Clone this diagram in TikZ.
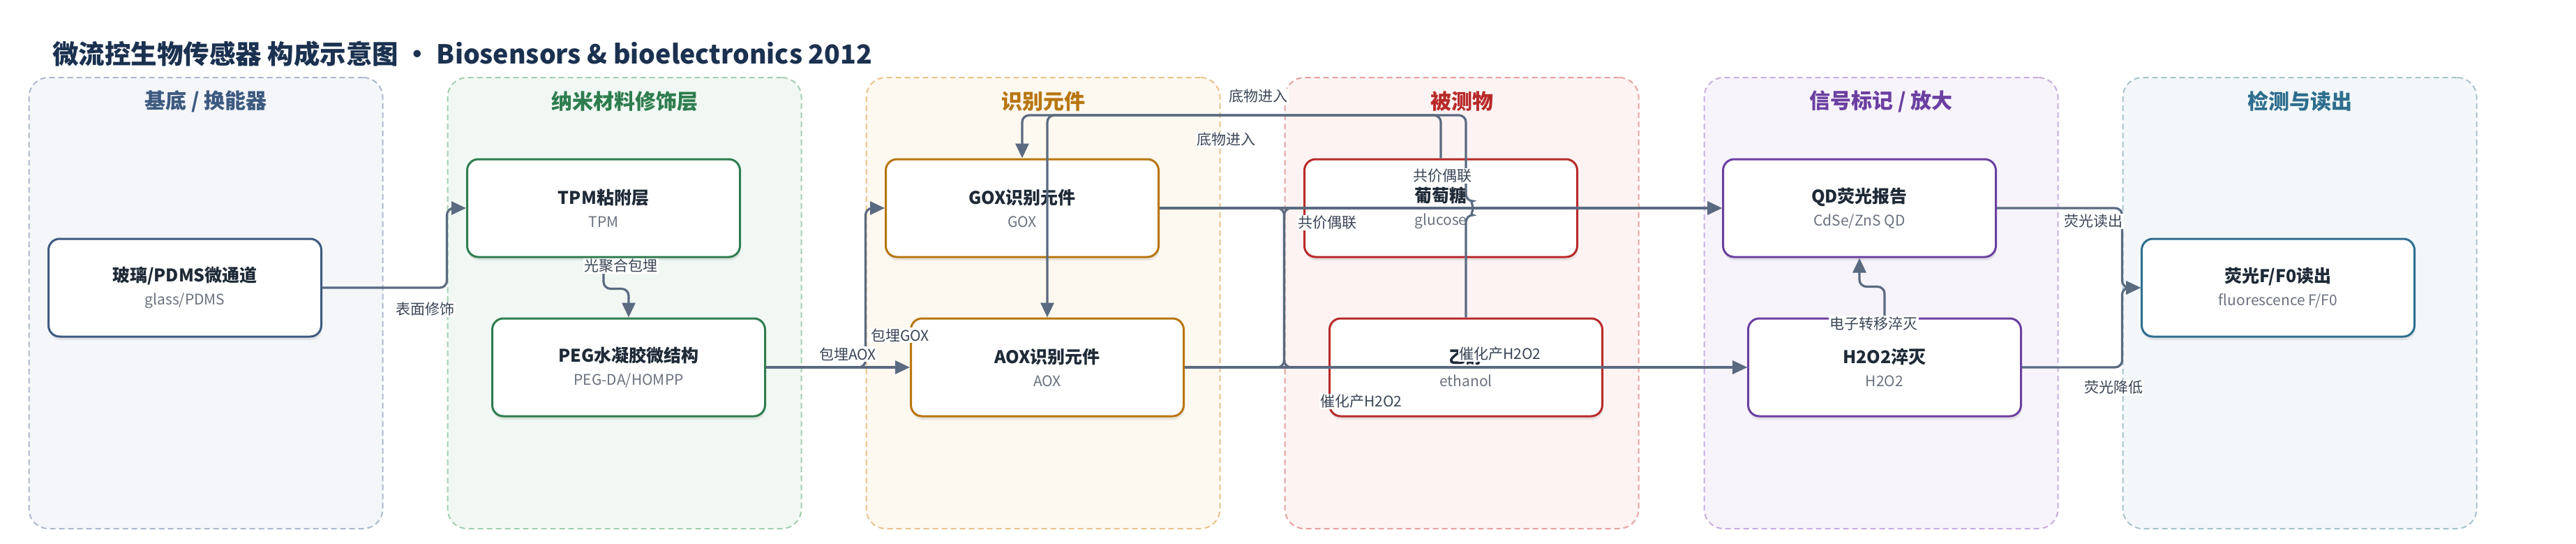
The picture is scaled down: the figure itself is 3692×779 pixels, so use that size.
\documentclass[tikz,border=0pt]{standalone}
\usepackage{fontspec}
\setmainfont{Noto Sans CJK SC}
\usetikzlibrary{arrows.meta,shadows,calc}
\definecolor{edgec}{HTML}{5A6A80}
\definecolor{labelc}{HTML}{3A4556}
\definecolor{ntitle}{HTML}{1F2A37}
\definecolor{nsub}{HTML}{6B7280}
\definecolor{maint}{HTML}{1B3150}
\definecolor{aB}{HTML}{3D5A80}\definecolor{aF}{HTML}{F4F6FA}\definecolor{aD}{HTML}{AEB9CE}
\definecolor{bB}{HTML}{2E7D4F}\definecolor{bF}{HTML}{F1F8F3}\definecolor{bD}{HTML}{A3CFB1}
\definecolor{cB}{HTML}{B8760E}\definecolor{cF}{HTML}{FDF8F0}\definecolor{cD}{HTML}{E8C38C}
\definecolor{dB}{HTML}{B82A2A}\definecolor{dF}{HTML}{FDF3F3}\definecolor{dD}{HTML}{E8A2A2}
\definecolor{eB}{HTML}{6B3FA0}\definecolor{eF}{HTML}{F7F3FB}\definecolor{eD}{HTML}{C8AEE0}
\definecolor{fB}{HTML}{2E6E8E}\definecolor{fF}{HTML}{F3F7F9}\definecolor{fD}{HTML}{A8C3CD}
\newcommand{\nsubt}[1]{{\mdseries\fontsize{21}{26}\selectfont\color{nsub}#1}}
\begin{document}
\begin{tikzpicture}[x=1pt,y=-1pt,
  lane/.style={draw=#1D, fill=#1F, dash pattern=on 8pt off 5pt, line width=2pt,
    rounded corners=28pt, minimum width=507pt, minimum height=646pt, inner sep=0pt},
  lanetitle/.style={text=#1B, font=\fontsize{30}{32}\selectfont\bfseries, inner sep=0pt},
  nbox/.style={draw=#1B, fill=white, line width=3pt, rounded corners=16pt,
    minimum width=391pt, minimum height=140pt, align=center, text=ntitle,
    drop shadow={shadow xshift=1pt, shadow yshift=-5pt, opacity=0.16},
    font=\fontsize{25}{30}\selectfont\bfseries},
  edge/.style={draw=edgec, line width=3.2pt, rounded corners=10pt,
    -{Triangle[length=21pt,width=19pt]}},
  lbl/.style={fill=white, text=labelc, font=\fontsize{21}{24}\selectfont, inner sep=1.5pt}
]
\useasboundingbox (0,0) rectangle (3692,779);
\fill[white] (0,0) rectangle (3692,779);

\node[anchor=west, text=maint, font=\fontsize{37.5}{40}\selectfont\bfseries, inner sep=0pt] (title) at (75,77)
  {微流控生物传感器 构成示意图 · Biosensors \& bioelectronics 2012};

% lanes
\node[lane=a] (lane1) at (295,434) {};
\node[lane=b] (lane2) at (895,434) {};
\node[lane=c] (lane3) at (1495,434) {};
\node[lane=d] (lane4) at (2095,434) {};
\node[lane=e] (lane5) at (2696,434) {};
\node[lane=f] (lane6) at (3296,434) {};
\node[lanetitle=a] (t1) at (295,145) {基底 / 换能器};
\node[lanetitle=b] (t2) at (895,145) {纳米材料修饰层};
\node[lanetitle=c] (t3) at (1495,145) {识别元件};
\node[lanetitle=d] (t4) at (2095,145) {被测物};
\node[lanetitle=e] (t5) at (2696,145) {信号标记 / 放大};
\node[lanetitle=f] (t6) at (3296,145) {检测与读出};

% nodes
\node[nbox=a] (glass) at (265,412) {玻璃/PDMS微通道\\[3pt]\nsubt{glass/PDMS}};
\node[nbox=b] (tpm) at (865,298) {TPM粘附层\\[3pt]\nsubt{TPM}};
\node[nbox=b] (peg) at (901,526) {PEG水凝胶微结构\\[3pt]\nsubt{PEG-DA/HOMPP}};
\node[nbox=c] (gox) at (1465,298) {GOX识别元件\\[3pt]\nsubt{GOX}};
\node[nbox=c] (aox) at (1501,526) {AOX识别元件\\[3pt]\nsubt{AOX}};
\node[nbox=d] (glucose) at (2065,298) {葡萄糖\\[3pt]\nsubt{glucose}};
\node[nbox=d] (ethanol) at (2101,526) {乙醇\\[3pt]\nsubt{ethanol}};
\node[nbox=e] (qd) at (2665,298) {QD荧光报告\\[3pt]\nsubt{CdSe/ZnS QD}};
\node[nbox=e] (h2o2) at (2701,526) {H2O2淬灭\\[3pt]\nsubt{H2O2}};
\node[nbox=f] (ff) at (3265,412) {荧光F/F0读出\\[3pt]\nsubt{fluorescence F/F0}};

\coordinate (topy) at (0,165);
\coordinate (jump) at (ethanol.north |- glucose.center);

% edges
\draw[edge] (glass.east) -- (glass.east -| lane2.west) -- (tpm.west -| lane2.west) -- (tpm.west);
\draw[edge] (tpm.south) -- ++(0,44) -| (peg.north);
\draw[edge] (peg.east) -- (peg.east -| lane3.west) -- (gox.west -| lane3.west) -- (gox.west);
\draw[edge] (peg.east) -- (aox.west);
\draw[edge] (glucose.north) -- (glucose.north |- topy) -| (gox.north);
\draw[edge] (ethanol.north) -- ($(jump)+(0,10)$) arc[start angle=-90,end angle=90,radius=10pt]
  -- (ethanol.north |- topy) -| (aox.north);
\draw[edge] (gox.east) -- (qd.west);
\draw[edge] (gox.east) -- (gox.east -| lane4.west) -- (h2o2.west -| lane4.west) -- (h2o2.west);
\draw[edge] (aox.east) -- (h2o2.west);
\draw[edge] (aox.east) -- (aox.east -| lane4.west) -- (qd.west -| lane4.west) -- (qd.west);
\draw[edge] (qd.east) -- (qd.east -| lane6.west) -- (ff.west -| lane6.west) -- (ff.west);
\draw[edge] (h2o2.east) -- (h2o2.east -| lane6.west) -- (ff.west -| lane6.west) -- (ff.west);
\draw[edge] (h2o2.north) -- ++(0,-44) -| (qd.south);

% labels
\node[lbl] (l1) at (609,443) {表面修饰};
\node[lbl] (l2) at (890,381) {光聚合包埋};
\node[lbl] (l3) at (1290,480) {包埋GOX};
\node[lbl] (l4) at (1215,507) {包埋AOX};
\node[lbl] (l5) at (1803,138) {底物进入};
\node[lbl] (l6) at (1757,200) {底物进入};
\node[lbl] (l7) at (1902,319) {共价偶联};
\node[lbl] (l8) at (2067,252) {共价偶联};
\node[lbl] (l9) at (1951,575) {催化产H2O2};
\node[lbl] (l10) at (2150,507) {催化产H2O2};
\node[lbl] (l11) at (3000,317) {荧光读出};
\node[lbl] (l12) at (3029,555) {荧光降低};
\node[lbl] (l13) at (2685,463) {电子转移淬灭};
\end{tikzpicture}
\end{document}
